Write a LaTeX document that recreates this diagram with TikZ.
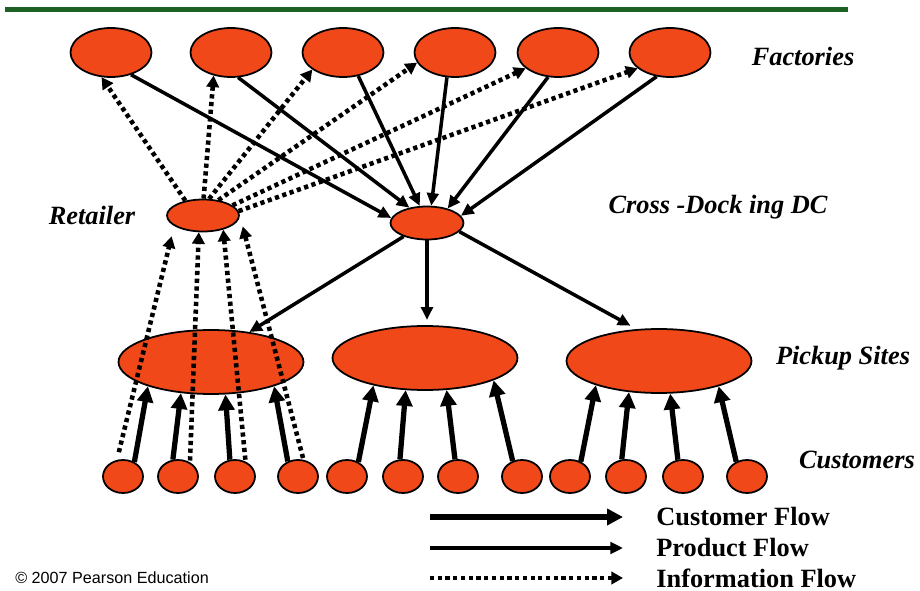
\documentclass[tikz,border=0pt]{standalone}
\usepackage{fontspec}
\setmainfont{Liberation Serif}
\newfontfamily\copyfont{Liberation Sans}
\usetikzlibrary{arrows.meta,shapes.geometric}
\definecolor{siteorange}{RGB}{240,72,24}
\definecolor{bargreen}{RGB}{28,96,36}

\begin{document}
\begin{tikzpicture}
[
  x=0.02cm, y=-0.02cm,
  site/.style={ellipse, draw=black, line width=1pt, fill=siteorange, inner sep=0pt},
  factory/.style={site, minimum width=1.62cm, minimum height=0.98cm},
  hub/.style={site, minimum width=1.44cm, minimum height=0.64cm},
  pickup/.style={site, minimum width=3.7cm, minimum height=1.28cm},
  customer/.style={site, minimum width=0.8cm, minimum height=0.66cm},
  lbl/.style={font={\fontsize{15}{18}\selectfont\bfseries\itshape}},
  leg/.style={font={\fontsize{15}{18}\selectfont\bfseries}, anchor=west, inner sep=0pt},
  prod/.style={-{Triangle[length=7.2pt,width=6.6pt]}, line width=2pt},
  cust/.style={-{Triangle[length=9pt,width=9pt]}, line width=3pt},
  info/.style={-{Triangle[length=6.6pt,width=7pt]}, line width=2.6pt, dash pattern=on 2.4pt off 2pt},
]
\useasboundingbox (0,0) rectangle (920,591);

\draw[bargreen, line width=0.1cm] (5,10) -- (848,10);

\foreach \x [count=\i] in {111,231,343,455,558,670}
  \node[factory] (f\i) at (\x,52.5) {};
\node[hub] (ret) at (203,215.5) {};
\node[hub, minimum width=1.46cm, minimum height=0.66cm] (dc) at (427,223) {};
\node[pickup] (p1) at (211,362) {};
\node[pickup] (p2) at (425,358) {};
\node[pickup] (p3) at (659,361) {};
\foreach \x [count=\i] in {123,178,235,298,347,403,458,522,570,626,683,747}
  \node[customer] (c\i) at (\x,476.5) {};

\node[lbl] (lfac) at (803,56) {Factories};
\node[lbl] (ldc) at (718,207) {Cross -Dock ing DC};
\node[lbl] (lret) at (92,215) {Retailer};
\node[lbl] (lsite) at (843,358) {Pickup Sites};
\node[lbl] (lcus) at (857,460) {Customers};

\foreach \i/\a/\b in {1/312/172, 2/286/139, 3/303/113, 4/252/76, 5/248/35, 6/241/12}
  \draw[prod] (f\i.\a) -- (dc.\b);
\draw[prod] (dc.210) -- (p1.38);
\draw[prod, shorten >=3pt] (dc.south) -- (dc.south |- p2.north);
\draw[prod, shorten >=4pt] (dc.345) -- (p3.125);

\foreach \a/\i/\b in {140/1/249, 88/2/233, 70/3/209, 45/4/195, 19/5/206, 7/6/206}
  \draw[info] (ret.\a) -- (f\i.\b);
\draw[info, shorten <=4.5pt, shorten >=6pt] (c1.110) -- (ret.200);
\draw[info, shorten <=1pt] (c2.50) -- (ret.256);
\draw[info, shorten <=1pt] (c3.55) -- (ret.325);
\draw[info, shorten <=1pt, shorten >=6.5pt] (c4.72) -- (ret.east);

\foreach \c/\a/\p/\b in {1/52/1/201, 2/107/1/226, 3/107/1/294, 4/124/1/339,
                         5/52/2/208, 6/100/2/239, 7/100/2/304, 8/121/2/342,
                         9/54/3/201, 10/104/3/226, 11/107/3/289, 12/126/3/337}
  \draw[cust] (c\c.\a) -- (p\p.\b);

\coordinate (lc0) at (430,517);
\coordinate (lc1) at (623,517);
\coordinate (lp0) at (430,548);
\coordinate (lp1) at (623,548);
\coordinate (li0) at (430,578);
\coordinate (li1) at (623,578);
\draw[cust] (lc0) -- (lc1);
\draw[prod] (lp0) -- (lp1);
\draw[info] (li0) -- (li1);
\node[leg] (lgc) at (656,517) {Customer Flow};
\node[leg] (lgp) at (656,548) {Product Flow};
\node[leg] (lgi) at (656,578) {Information Flow};

\node[anchor=west, inner sep=0pt, font={\copyfont\fontsize{9.2}{11}\selectfont}] (copy) at (15,578) {© 2007 Pearson Education};
\end{tikzpicture}
\end{document}
